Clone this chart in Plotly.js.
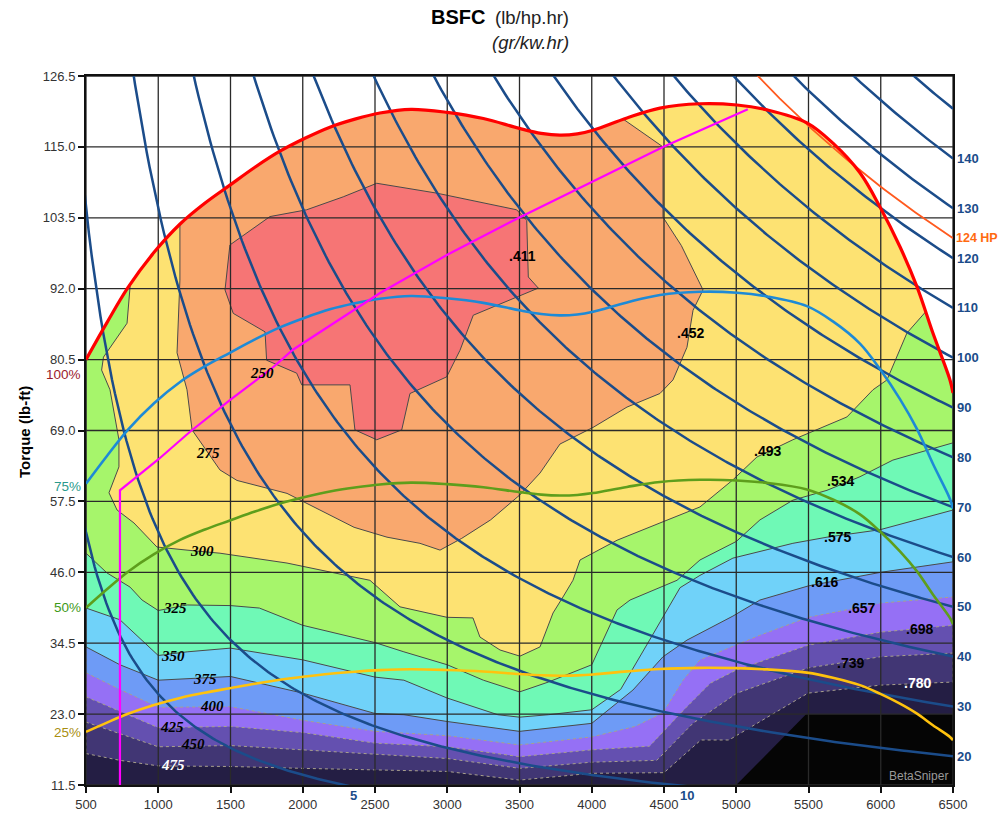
<!DOCTYPE html>
<html><head><meta charset="utf-8">
<script src="https://cdn.plot.ly/plotly-3.0.1.min.js"></script>
<style>html,body{margin:0;padding:0;background:#fff;}#chart{width:1000px;height:818px;}</style>
</head><body><div id="chart"></div>
<script>
// ---------- DATA ----------
const xTicks = [500,1000,1500,2000,2500,3000,3500,4000,4500,5000,5500,6000,6500];
const yTicks = [11.5,23,34.5,46,57.5,69,80.5,92,103.5,115,126.5];

// full-load (100%) torque curve
const maxRpm    = [500,645,791,971,1151,1324,1496,1669,1842,2015,2188,2361,2534,2749,2998,3250,3500,3650,3780,3900,4009,4244,4472,4749,5005,5213,5489,5669,5856,5994,6133,6251,6361,6479,6500];
const maxTorque = [80.5,86.5,92.2,97.9,102.5,105.9,108.8,111.7,114.3,116.4,118.2,119.5,120.5,121.1,120.6,119.6,118.0,117.2,116.9,117.1,117.7,119.7,121.3,122.0,121.8,121.0,118.9,115.6,110.8,105.3,98.8,92.3,84.8,77.2,75.1];
const loadPct = [75,50,25];

// operating line (magenta)
const opRpm    = [735,735,1000,1220,1500,1787,1932,2535,3000,3503,4000,4493,5080];
const opTorque = [11.5,59.3,64.3,68.8,74,79.1,82.1,91.3,97.5,103.6,109.3,115,121.1];

// constant power lines (HP)
const hpLines = [5,10,20,30,40,50,60,70,80,90,100,110,120,130,140,150];
const hpRightLabels = [20,30,40,50,60,70,80,90,100,110,120,130,140];
const hpBottomLabels = [5,10];
const peakHp = 124;

// BSFC levels (lb/hp.hr) and (g/kW.hr)
const bsfcLevels = [0.411,0.452,0.493,0.534,0.575,0.616,0.657,0.698,0.739,0.780];
const gramLevels = [250,275,300,325,350,375,400,425,450,475];

// contour boundaries (rpm, torque)
const c411Rpm = [2512,2927,3480,3550,3561,3630,3180,3088,2996,2742,2685,2512,2361,2327,1993,1958,1750,1739,1519,1462,1496,1773,2027,2280,2512];
const c411Tq  = [109.1,107.5,104.8,103.1,93.9,92.1,87.7,82.0,77.7,75.0,69.1,67.5,69.1,76.4,76.4,78.3,80.4,85.0,88.0,91.8,99.1,103.7,104.8,106.9,109.1];

const c452Rpm = [1150,1150,1130,1199,1234,1427,1545,1891,2119,2355,2583,2811,2950,3100,3300,3500,3642,3780,4009,4244,4472,4562,4659,4701,4770,4620,4493,4493,4175,4175];
const c452Tq  = [126.5,93.4,81.6,75.6,69.1,62.6,60.9,58.8,56.1,53.3,51.7,50.7,49.6,51.5,54.5,58.5,62.1,66.8,69.5,72.8,75.0,77.2,82.5,88.5,91.8,99,103.6,115,120.2,126.5];

const c493Rpm = [805,805,784,621,608,666,728,728,659,715,832,991,1199,1427,1891,2119,2465,2673,2998,3178,3226,3365,3503,3642,3732,3801,3870,3919,4175,4472,4749,4977,5143,5392,5766,5946,6043,6181,6320,6420];
const c493Tq  = [126.5,92.3,86.4,80.9,78.8,75.6,67.5,63.1,58.9,56.1,54.0,50.1,49.6,49.1,47.5,46.4,44.7,40.4,38.7,38.6,35.5,33.4,32.4,33.9,39.4,42.0,44.7,48.0,51.2,54.0,56.6,61.0,64.7,67.5,71.2,75.6,77.2,84.8,88.5,126.5];

const c534Rpm = [500,645,805,888,1000,1200,1500,1700,2000,2500,2700,3000,3250,3500,3700,4000,4175,4265,4590,4749,5000,5164,5392,5628,5856,6084,6500];
const c534Tq  = [49.1,45.9,43.6,41.5,39.8,40.7,40.6,40.2,37.4,34.6,33.1,31.0,28.5,26.6,28.2,31.0,39.9,41.5,44.7,48.0,51.0,54.5,57.7,59.3,61.5,64.2,67.0];

const c575Rpm = [500,735,1000,1200,1500,2000,2500,2700,3000,3350,3500,3700,4000,4200,4400,4611,4749,4977,5392,5628,5994,6500];
const c575Tq  = [40.2,38.3,32.5,33.1,33.7,31.8,29.0,28.5,25.6,22.9,22.5,22.9,23.7,27,35,43.5,45.5,48.3,50.7,51.7,52.9,56.1];

const c616Rpm = [500,735,1000,1500,2000,2500,2700,3000,3500,4000,4285,4493,4659,4977,5164,5500,6000,6500];
const c616Tq  = [33.9,31,28.5,29.1,26.4,23.1,22.9,21.8,20.2,21.5,26.9,32.3,35.0,38.9,41.5,43.8,46.0,47.7];

const c657Rpm = [500,735,1000,1500,2000,2500,3000,3500,4000,4300,4493,4632,4749,4977,5164,5500,6000,6500];
const c657Tq  = [29.7,27,24.1,24.2,22.0,20.2,19.5,18.0,19.3,21,23.2,28.5,31.8,34.0,35.8,38.7,41.0,42.0];

const c698Rpm = [500,735,1000,1500,2000,2500,3000,3500,4000,4400,4650,4820,5005,5500,6000,6500];
const c698Tq  = [25.8,23.5,20.8,21.0,20.0,18.3,17.7,16.1,17.2,17.8,24,28,30.2,34.2,36.3,37.4];

const c739Rpm = [500,735,1000,1500,2000,2500,3000,3500,4000,4450,4700,5005,5500,6000,6500];
const c739Tq  = [21.7,19.8,17.7,17.9,17.2,16.4,15.8,14.2,15.2,15.5,21.5,26.4,30.5,32.3,32.9];

const c780Rpm = [500,735,1000,1500,2000,2500,3000,3500,4000,4500,4755,4950,5496,6000,6500];
const c780Tq  = [16.6,15.5,14.6,14.5,14.2,13.9,13.7,12.3,13.4,13.5,18.8,18.8,26.4,27.7,28.2];

// no-data (black) area
const voidRpm = [5000,5485,6500,6500];
const voidTq  = [11.5,23.0,23.0,11.5];

// ---------- STYLE ----------
const bandColors = ['#F67575','#F9A86E','#FDE272','#A6F56B','#6FF9B6','#70D2F9','#6E9BF6','#9570F5','#6450B0','#413674','#241E44'];
const hpColor = '#1B4C8A';
const FONT = 'Liberation Sans, Arial, sans-serif';

const xMin = xTicks[0], xMax = xTicks[xTicks.length-1];
const yMin = yTicks[0], yMax = yTicks[yTicks.length-1];

const contourSets = [
  {lvl:0.411, x:c411Rpm, y:c411Tq, closed:true},
  {lvl:0.452, x:c452Rpm, y:c452Tq, closed:true},
  {lvl:0.493, x:c493Rpm, y:c493Tq, closed:true},
  {lvl:0.534, x:c534Rpm, y:c534Tq},
  {lvl:0.575, x:c575Rpm, y:c575Tq},
  {lvl:0.616, x:c616Rpm, y:c616Tq},
  {lvl:0.657, x:c657Rpm, y:c657Tq},
  {lvl:0.698, x:c698Rpm, y:c698Tq},
  {lvl:0.739, x:c739Rpm, y:c739Tq},
  {lvl:0.780, x:c780Rpm, y:c780Tq}
];

const traces = [];
traces.push({x:[xMin,xMax,xMax,xMin,xMin], y:[yMin,yMin,yMax,yMax,yMin], fill:'toself', fillcolor:bandColors[10], line:{width:0}, mode:'lines', hoverinfo:'skip'});
for (let i = contourSets.length-1; i >= 0; i--) {
  const c = contourSets[i];
  const idx = bsfcLevels.indexOf(c.lvl);
  let xs = c.x.slice(), ys = c.y.slice();
  if (!c.closed) { xs.push(xMax, xMin, xs[0]); ys.push(yMax+5, yMax+5, ys[0]); }
  const light = c.lvl >= 0.657;
  traces.push({x:xs, y:ys, fill:'toself', fillcolor:bandColors[idx], mode:'lines',
    line:{width:1, color: light ? '#a8a08c' : '#4a4a4a', dash: light ? 'dot' : 'solid'}, hoverinfo:'skip'});
}
traces.push({x:voidRpm, y:voidTq, fill:'toself', fillcolor:'#050505', mode:'lines', line:{width:0}, hoverinfo:'skip'});
// white above the full-load curve
const lastT = maxTorque[maxTorque.length-1];
traces.push({x:maxRpm.concat([xMax+60,xMax+60,xMin-60,xMin-60]), y:maxTorque.concat([lastT,yMax+5,yMax+5,maxTorque[0]]), fill:'toself', fillcolor:'#ffffff', mode:'lines', line:{width:0}, hoverinfo:'skip'});

// grid lines
const gx = [], gy = [];
xTicks.forEach(v => { gx.push(v, v, null); gy.push(yMin, yMax, null); });
yTicks.forEach(v => { gx.push(xMin, xMax, null); gy.push(v, v, null); });
traces.push({x:gx, y:gy, mode:'lines', line:{color:'#2a2a2a', width:1.3}, hoverinfo:'skip'});

// constant HP lines
const rpmSamples = [];
for (let r = 300; r <= xMax; r += 20) rpmSamples.push(r);
hpLines.forEach(hp => {
  traces.push({x:rpmSamples, y:rpmSamples.map(r => hp*5252/r), mode:'lines', line:{color:hpColor, width:2.5}, hoverinfo:'skip'});
});
const peakRpm = rpmSamples.filter(r => peakHp*5252/r <= yMax + 2);
traces.push({x:peakRpm, y:peakRpm.map(r => peakHp*5252/r), mode:'lines', line:{color:'#FF5A1F', width:1.8}, hoverinfo:'skip'});

// part-load curves
const pctColors = {75:'#1E8AD6', 50:'#5E9E1C', 25:'#FFC20E'};
loadPct.slice().reverse().forEach(p => {
  traces.push({x:maxRpm, y:maxTorque.map(t => t*p/100), mode:'lines', line:{color:pctColors[p], width:2.6, shape:'spline'}, hoverinfo:'skip'});
});
traces.push({x:opRpm, y:opTorque, mode:'lines', line:{color:'#FF00FF', width:2.2}, hoverinfo:'skip'});
traces.push({x:maxRpm, y:maxTorque, mode:'lines', line:{color:'#FF0000', width:3.2, shape:'spline'}, hoverinfo:'skip'});

// ---------- ANNOTATIONS ----------
const ann = [];
const px2paperX = px => (px-86)/867, px2paperY = py => (785-py)/709;
ann.push({xref:'paper', yref:'paper', x:px2paperX(487), y:px2paperY(17), xanchor:'right', yanchor:'middle', showarrow:false, text:'<b>BSFC</b>', font:{family:FONT, size:20, color:'#000'}});
ann.push({xref:'paper', yref:'paper', x:px2paperX(493), y:px2paperY(18), xanchor:'left', yanchor:'middle', showarrow:false, text:'(lb/hp.hr)', font:{family:FONT, size:18.5, color:'#222'}});
ann.push({xref:'paper', yref:'paper', x:px2paperX(490), y:px2paperY(42), xanchor:'left', yanchor:'middle', showarrow:false, text:'<i>(gr/kw.hr)</i>', font:{family:FONT, size:18.5, color:'#222'}});
ann.push({xref:'paper', yref:'paper', x:px2paperX(24), y:px2paperY(432), xanchor:'center', yanchor:'middle', textangle:-90, showarrow:false, text:'<b>Torque (lb-ft)</b>', font:{family:FONT, size:15, color:'#000'}});

const pctLabelColors = {100:'#9B1B2A', 75:'#2A9A8C', 50:'#3E9A1A', 25:'#A88E10'};
const pctLabelShift = {100:-14.5, 75:-3, 50:0, 25:-1};
[100].concat(loadPct).forEach(p => {
  ann.push({xref:'x', yref:'y', x:xMin, y:maxTorque[0]*p/100, xanchor:'right', yanchor:'middle', xshift:-3, yshift:pctLabelShift[p], showarrow:false, text:p+'%', font:{family:FONT, size:13.5, color:pctLabelColors[p]}});
});
hpRightLabels.forEach(hp => {
  ann.push({xref:'x', yref:'y', x:xMax, y:hp*5252/xMax, xanchor:'left', yanchor:'middle', xshift:2, showarrow:false, text:'<b>'+hp+'</b>', font:{family:FONT, size:13, color:hpColor}});
});
ann.push({xref:'x', yref:'y', x:xMax, y:peakHp*5252/xMax, xanchor:'left', yanchor:'middle', xshift:1, showarrow:false, text:'<b>'+peakHp+' HP</b>', font:{family:FONT, size:12.5, color:'#FF6A10'}});
hpBottomLabels.forEach(hp => {
  ann.push({xref:'x', yref:'paper', x:hp*5252/yMin, y:0, xanchor:'left', yanchor:'top', xshift:4, yshift:-1, showarrow:false, text:'<b>'+hp+'</b>', font:{family:FONT, size:13, color:hpColor}});
});

const gramPos = [[1718,78.3],[1344,65.3],[1302,49.5],[1115,40.2],[1102,32.4],[1323,28.7],[1372,24.3],[1095,20.9],[1240,18.1],[1102,14.7]];
const lbPos = [[3524,97.3],[4680,84.8],[5219,65.7],[5718,60.8],[5704,51.7],[5614,44.4],[5870,40.2],[6271,36.8],[5794,31.3],[6257,28.0]];
gramLevels.forEach((g,i) => {
  ann.push({xref:'x', yref:'y', x:gramPos[i][0], y:gramPos[i][1], showarrow:false, text:'<b><i>'+g+'</i></b>', font:{family:'Liberation Serif, Times New Roman, serif', size:15, color: i===9 ? '#fff' : '#000'}});
});
bsfcLevels.forEach((b,i) => {
  ann.push({xref:'x', yref:'y', x:lbPos[i][0], y:lbPos[i][1], showarrow:false, text:'<b>'+b.toFixed(3).replace(/^0/,'')+'</b>', font:{family:FONT, size:14, color: i===9 ? '#fff' : '#000'}});
});
ann.push({xref:'paper', yref:'paper', x:px2paperX(950), y:px2paperY(776), xanchor:'right', yanchor:'middle', showarrow:false, text:'BetaSniper', font:{family:FONT, size:12, color:'#9a9a9a'}});

const axisCommon = {showgrid:false, zeroline:false, showline:true, mirror:true, linewidth:2, linecolor:'#111', ticks:'outside', ticklen:6, tickwidth:2, tickcolor:'#111', tickfont:{family:FONT, size:13, color:'#333'}};
const layout = {
  width:1000, height:818, margin:{l:86, r:47, t:76, b:33},
  paper_bgcolor:'#fff', plot_bgcolor:'#fff', showlegend:false,
  xaxis: Object.assign({}, axisCommon, {range:[xMin,xMax], tickvals:xTicks, ticktext:xTicks.map(String)}),
  yaxis: Object.assign({}, axisCommon, {range:[yMin,yMax], tickvals:yTicks, ticktext:yTicks.map(v => v.toFixed(1))}),
  annotations: ann
};
Plotly.newPlot('chart', traces, layout, {staticPlot:true, displayModeBar:false});
</script></body></html>
